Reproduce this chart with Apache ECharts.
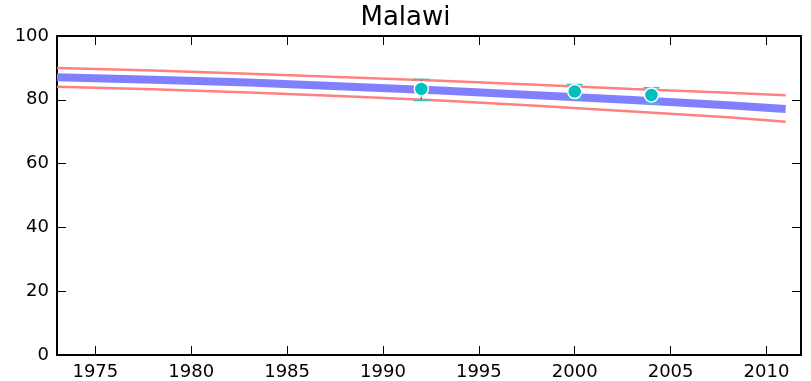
<!doctype html>
<html>
<head>
<meta charset="utf-8">
<title>Malawi</title>
<script src="https://cdn.jsdelivr.net/npm/echarts@6/dist/echarts.min.js"></script>
<style>
  html, body { margin: 0; padding: 0; background: #fff; }
  #chart { width: 811px; height: 381px; }
</style>
</head>
<body>
<div id="chart"></div>
<script>
// data
const years      = [1973, 1978, 1983, 1988, 1993, 1998, 2003, 2008, 2011];
const trend      = [87.1, 86.3, 85.4, 84.2, 82.9, 81.4, 79.9, 78.3, 77.1];
const upperBand  = [90.0, 89.2, 88.2, 87.1, 86.0, 84.7, 83.4, 82.2, 81.4];
const lowerBand  = [84.1, 83.3, 82.3, 81.1, 79.8, 78.1, 76.3, 74.5, 73.1];

const surveyYears = [1992, 2000, 2004];
const surveyVals  = [83.4, 82.6, 81.5];
const surveyLow   = [79.8, 80.3, 78.8];
const surveyHigh  = [86.4, 84.8, 83.8];

const xTicks = [1975, 1980, 1985, 1990, 1995, 2000, 2005, 2010];

const font = 'DejaVu Sans';
const pairs = (xs, ys) => xs.map((x, i) => [x, ys[i]]);

const chart = echarts.init(document.getElementById('chart'));

const axisLine = { show: true, onZero: false, lineStyle: { color: '#000', width: 2 } };
const tick = { show: true, inside: true, length: 9, lineStyle: { color: '#000', width: 1 } };

option = {
  animation: false,
  title: {
    text: 'Malawi', left: 'center', top: 0,
    textStyle: { fontFamily: font, fontSize: 26, fontWeight: 'normal', color: '#000' }
  },
  grid: { left: 57, right: 10, top: 36, bottom: 26 },
  xAxis: [
    {
      type: 'value', position: 'bottom', min: 1973, max: 2011.8,
      splitLine: { show: false }, axisLine: axisLine,
      axisTick: Object.assign({ customValues: xTicks }, tick),
      axisLabel: { customValues: xTicks, margin: 8, fontFamily: font, fontSize: 18, color: '#000',
                   formatter: v => String(v) }
    },
    {
      type: 'value', position: 'top', min: 1973, max: 2011.8,
      splitLine: { show: false }, axisLine: axisLine,
      axisTick: Object.assign({ customValues: xTicks }, tick),
      axisLabel: { show: false }
    }
  ],
  yAxis: [
    {
      type: 'value', position: 'left', min: 0, max: 100, interval: 20,
      splitLine: { show: false }, axisLine: axisLine, axisTick: tick,
      axisLabel: { margin: 8, fontFamily: font, fontSize: 18, color: '#000' }
    },
    {
      type: 'value', position: 'right', min: 0, max: 100, interval: 20,
      splitLine: { show: false }, axisLine: axisLine, axisTick: tick,
      axisLabel: { show: false }
    }
  ],
  series: [
    {
      type: 'line', data: pairs(years, upperBand), showSymbol: false, symbol: 'none',
      lineStyle: { color: '#ff8080', width: 2.5 }, z: 2
    },
    {
      type: 'line', data: pairs(years, lowerBand), showSymbol: false, symbol: 'none',
      lineStyle: { color: '#ff8080', width: 2.5 }, z: 2
    },
    {
      type: 'line', data: pairs(years, trend), showSymbol: false, symbol: 'none',
      lineStyle: { color: '#8080ff', width: 8 }, z: 3
    },
    {
      type: 'custom', z: 4,
      data: surveyYears.map((y, i) => [y, surveyLow[i], surveyHigh[i]]),
      encode: { x: 0, y: [1, 2] },
      renderItem: function (params, api) {
        const lo = api.coord([api.value(0), api.value(1)]);
        const hi = api.coord([api.value(0), api.value(2)]);
        const w = 8;
        return {
          type: 'group',
          children: [
            { type: 'line', shape: { x1: lo[0], y1: lo[1], x2: hi[0], y2: hi[1] },
              style: { stroke: '#3f8f8f', lineWidth: 1.5 } },
            { type: 'line', shape: { x1: lo[0] - w, y1: lo[1], x2: lo[0] + w, y2: lo[1] },
              style: { stroke: '#33c4c4', lineWidth: 1.5 } },
            { type: 'line', shape: { x1: hi[0] - w, y1: hi[1], x2: hi[0] + w, y2: hi[1] },
              style: { stroke: '#33c4c4', lineWidth: 1.5 } }
          ]
        };
      }
    },
    {
      type: 'scatter', z: 5, data: pairs(surveyYears, surveyVals),
      symbol: 'circle', symbolSize: 14,
      itemStyle: { color: '#00bfbf', borderColor: '#fff', borderWidth: 1.5, opacity: 1 }
    }
  ]
};

chart.setOption(option);
</script>
</body>
</html>
